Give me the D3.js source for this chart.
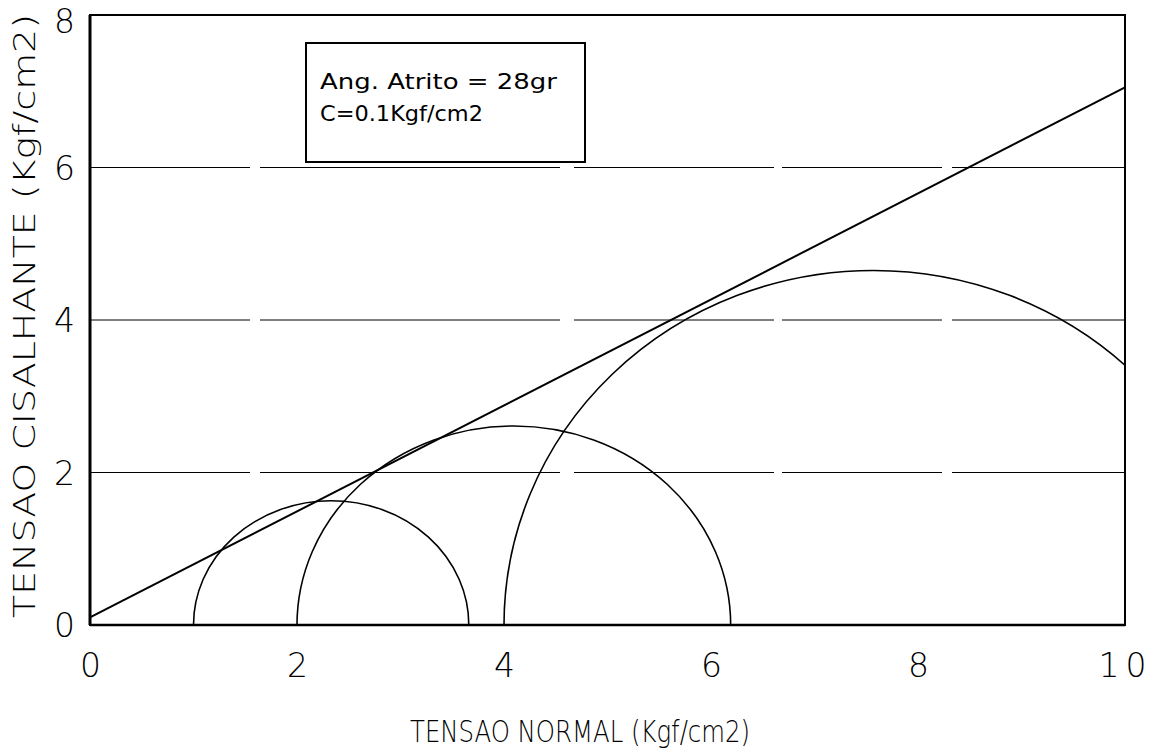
<!DOCTYPE html>
<html>
<head>
<meta charset="utf-8">
<script src="https://cdn.jsdelivr.net/npm/d3@7"></script>
<style>
  html, body { margin: 0; padding: 0; background: #fff; }
  svg { display: block; }
  text { font-family: "DejaVu Sans", "Liberation Sans", sans-serif; fill: #000; }
</style>
</head>
<body>
<svg id="chart" width="1164" height="749"></svg>
<script>
// ---- data ----
const xTicks = [0, 2, 4, 6, 8, 10];
const yTicks = [0, 2, 4, 6, 8];
const gridValues = [2, 4, 6];
// Mohr circles: minor principal stress, major principal stress, peak shear (as drawn)
const circleSigma3 = [1.0, 2.0, 4.0];
const circleSigma1 = [3.66, 6.19, 11.14];
const circlePeak   = [1.63, 2.61, 4.65];
// failure envelope end points
const envelopeX = [0, 10];
const envelopeY = [0.1, 7.05];
const legendLines = ["Ang. Atrito = 28gr", "C=0.1Kgf/cm2"];
const xTitle = "TENSAO NORMAL (Kgf/cm2)";
const yTitle = "TENSAO CISALHANTE (Kgf/cm2)";

// ---- layout ----
const svg = d3.select("#chart");
const L = 90, R = 1125, T = 15, B = 625;
const x = d3.scaleLinear().domain([0, 10]).range([L, R]);
const y = d3.scaleLinear().domain([0, 8]).range([B, T]);

svg.append("defs").append("clipPath").attr("id", "plotclip")
  .append("rect").attr("x", L).attr("y", T).attr("width", R - L).attr("height", B - T);

// grid lines
svg.append("g").selectAll("line").data(gridValues).join("line")
  .attr("x1", L).attr("x2", R)
  .attr("y1", d => y(d)).attr("y2", d => y(d))
  .attr("stroke", "#000").attr("stroke-width", 1)
  .attr("stroke-dasharray", "160,10,300,14,200,8");

// axes (labels only)
const xAxis = svg.append("g").attr("transform", `translate(0,${B})`)
  .call(d3.axisBottom(x).tickValues(xTicks).tickSize(0).tickPadding(0).tickFormat(d3.format("d")));
xAxis.select(".domain").remove();
xAxis.selectAll("text")
  .attr("y", 52).attr("dy", null)
  .style("font-size", "33px").style("font-weight", "200")
  .style("font-family", "'DejaVu Sans', 'Liberation Sans', sans-serif")
  .attr("letter-spacing", d => d === 10 ? "6px" : null)
  .attr("fill", "#000");

const yAxis = svg.append("g").attr("transform", `translate(${L},0)`)
  .call(d3.axisLeft(y).tickValues(yTicks).tickSize(0).tickPadding(15).tickFormat(d3.format("d")));
yAxis.select(".domain").remove();
yAxis.selectAll("text")
  .attr("dy", d => d === 8 ? "0.52em" : "0.36em")
  .style("font-size", "33px").style("font-weight", "200")
  .style("font-family", "'DejaVu Sans', 'Liberation Sans', sans-serif")
  .attr("fill", "#000");

// circles
const circles = circleSigma3.map((s3, i) => ({ s3, s1: circleSigma1[i], peak: circlePeak[i] }));
svg.append("g").attr("clip-path", "url(#plotclip)")
  .selectAll("path").data(circles).join("path")
  .attr("d", d => {
    const rx = (x(d.s1) - x(d.s3)) / 2;
    const ry = y(0) - y(d.peak);
    return `M${x(d.s3)},${y(0)} A${rx},${ry} 0 0 1 ${x(d.s1)},${y(0)}`;
  })
  .attr("fill", "none").attr("stroke", "#000").attr("stroke-width", 1.6);

// envelope
const env = envelopeX.map((v, i) => [v, envelopeY[i]]);
svg.append("path").datum(env)
  .attr("d", d3.line().x(d => x(d[0])).y(d => y(d[1])))
  .attr("fill", "none").attr("stroke", "#000").attr("stroke-width", 2);

// frame
svg.append("rect").attr("x", L).attr("y", T).attr("width", R - L).attr("height", B - T)
  .attr("fill", "none").attr("stroke", "#000").attr("stroke-width", 2);
svg.append("line").attr("x1", L).attr("x2", L).attr("y1", T).attr("y2", B)
  .attr("stroke", "#000").attr("stroke-width", 3);
svg.append("line").attr("x1", L).attr("x2", R).attr("y1", B).attr("y2", B)
  .attr("stroke", "#000").attr("stroke-width", 2.5);

// legend box
const lg = svg.append("g");
lg.append("rect").attr("x", 306).attr("y", 43).attr("width", 279).attr("height", 119)
  .attr("fill", "#fff").attr("stroke", "#000").attr("stroke-width", 2);
lg.selectAll("text").data(legendLines).join("text")
  .attr("x", 320).attr("y", (d, i) => 89 + i * 32)
  .attr("textLength", (d, i) => i === 0 ? 237 : 163)
  .attr("lengthAdjust", "spacingAndGlyphs")
  .style("font-size", "22px")
  .text(d => d);

// titles
svg.append("text").attr("x", 580).attr("y", 742).attr("text-anchor", "middle")
  .attr("textLength", 340).attr("lengthAdjust", "spacingAndGlyphs")
  .style("font-size", "31px").style("font-weight", "200")
  .text(xTitle);
svg.append("text").attr("transform", "translate(35,316) rotate(-90)")
  .attr("text-anchor", "middle")
  .attr("textLength", 604).attr("lengthAdjust", "spacingAndGlyphs")
  .style("font-size", "31px").style("font-weight", "200")
  .text(yTitle);
</script>
</body>
</html>
